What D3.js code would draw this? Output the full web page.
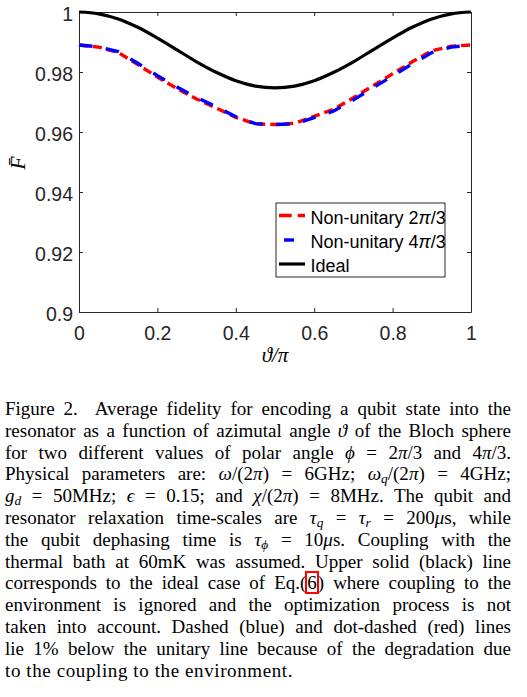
<!DOCTYPE html>
<html><head><meta charset="utf-8">
<script src="https://cdn.jsdelivr.net/npm/d3@7"></script>
<style>
body{margin:0;background:#fff;width:527px;height:697px;overflow:hidden;position:relative;}
#chart{position:absolute;left:0;top:0;}
#cap{position:absolute;left:5px;top:398px;width:506px;font-family:"Liberation Serif","Times New Roman",serif;font-size:19px;line-height:21.8px;color:#000;}
.l{text-align:justify;text-align-last:justify;height:21.8px;}
.last{text-align:left;text-align-last:left;letter-spacing:0.6px;}
i{font-style:italic}
sub{font-size:70%;vertical-align:-0.25em;line-height:0}
.sp{display:inline-block;width:9px;}
.eq{outline:2px solid #ff0000;outline-offset:-1px;padding:0 1px;}
</style></head>
<body>
<svg id="chart" width="527" height="380"></svg>
<div id="cap">
<div class="l">Figure 2.<span class="sp"></span> Average fidelity for encoding a qubit state into the</div>
<div class="l">resonator as a function of azimutal angle <i>ϑ</i> of the Bloch sphere</div>
<div class="l">for two different values of polar angle <i>ϕ</i> = 2<i>π</i>/3 and 4<i>π</i>/3.</div>
<div class="l">Physical parameters are: <i>ω</i>/(2<i>π</i>) = 6GHz; <i>ω<sub>q</sub></i>/(2<i>π</i>) = 4GHz;</div>
<div class="l"><i>g<sub>d</sub></i> = 50MHz; <i>ϵ</i> = 0.15; and <i>χ</i>/(2<i>π</i>) = 8MHz. The qubit and</div>
<div class="l">resonator relaxation time-scales are <i>τ<sub>q</sub></i> = <i>τ<sub>r</sub></i> = 200<i>μ</i>s, while</div>
<div class="l">the qubit dephasing time is <i>τ<sub>ϕ</sub></i> = 10<i>μ</i>s. Coupling with the</div>
<div class="l">thermal bath at 60mK was assumed. Upper solid (black) line</div>
<div class="l">corresponds to the ideal case of Eq.(<span class="eq">6</span>) where coupling to the</div>
<div class="l">environment is ignored and the optimization process is not</div>
<div class="l">taken into account. Dashed (blue) and dot-dashed (red) lines</div>
<div class="l">lie 1% below the unitary line because of the degradation due</div>
<div class="l last">to the coupling to the environment.</div>
</div>
<script>
const theta = [0,0.05,0.1,0.15,0.2,0.25,0.3,0.35,0.4,0.45,0.5,0.55,0.6,0.65,0.7,0.75,0.8,0.85,0.9,0.95,1];
const ideal = [1.0000,0.9994,0.9977,0.9949,0.9913,0.9874,0.9834,0.9799,0.9771,0.9753,0.9747,0.9753,0.9771,0.9799,0.9834,0.9874,0.9913,0.9949,0.9977,0.9994,1.0000];
const red  = [0.9890,0.9883,0.9865,0.9825,0.9783,0.9745,0.9710,0.9680,0.9649,0.9627,0.9625,0.9629,0.9652,0.9676,0.9714,0.9754,0.9794,0.9834,0.9871,0.9886,0.9890];
const blue = [0.9890,0.9884,0.9868,0.9829,0.9788,0.9750,0.9715,0.9684,0.9651,0.9628,0.9625,0.9627,0.9648,0.9670,0.9707,0.9747,0.9787,0.9827,0.9865,0.9883,0.9890];
const xTicks = [0,0.2,0.4,0.6,0.8,1];
const yTicks = [0.9,0.92,0.94,0.96,0.98,1];
const xTickLabels = ["0","0.2","0.4","0.6","0.8","1"];
const yTickLabels = ["0.9","0.92","0.94","0.96","0.98","1"];
const legendNames = [["Non-unitary 2","π","/3"],["Non-unitary 4","π","/3"],["Ideal","",""]];

const svg = d3.select('#chart');
const axColor = '#262626';
const x = d3.scaleLinear().domain([0,1]).range([79,471]);
const y = d3.scaleLinear().domain([0.9,1]).range([312,12]);
const sans = '"Liberation Sans", Arial, Helvetica, sans-serif';

function styleAxis(g){
  g.select('.domain').attr('stroke',axColor).attr('stroke-width',1);
  g.selectAll('.tick line').attr('stroke',axColor).attr('stroke-width',1);
  g.selectAll('.tick text').attr('fill',axColor).attr('font-family',sans).attr('font-size','19.5px');
}
const gx = svg.append('g').attr('transform','translate(0,312)')
  .call(d3.axisBottom(x).tickValues(xTicks).tickFormat((d,i)=>xTickLabels[i]).tickSizeInner(-4).tickSizeOuter(0).tickPadding(14));
styleAxis(gx);
const gy = svg.append('g').attr('transform','translate(79,0)')
  .call(d3.axisLeft(y).tickValues(yTicks).tickFormat((d,i)=>yTickLabels[i]).tickSizeInner(-4).tickSizeOuter(0).tickPadding(6));
styleAxis(gy);
gy.selectAll('.tick text').attr('dy','0.45em');
const gt = svg.append('g').attr('transform','translate(0,12)')
  .call(d3.axisTop(x).tickValues(xTicks).tickFormat('').tickSizeInner(-4).tickSizeOuter(0));
styleAxis(gt);
const gr = svg.append('g').attr('transform','translate(471,0)')
  .call(d3.axisRight(y).tickValues(yTicks).tickFormat('').tickSizeInner(-4).tickSizeOuter(0));
styleAxis(gr);

// axis labels
svg.append('text').attr('transform','translate(25,163) rotate(-90)')
  .attr('text-anchor','middle').attr('font-family','"Liberation Serif", serif')
  .attr('font-style','italic').attr('font-size','22px').attr('fill','#000').text('F\u0304');
svg.append('text').attr('x',275).attr('y',362).attr('text-anchor','middle')
  .attr('font-family','"Liberation Serif", serif').attr('font-style','italic')
  .attr('font-size','21px').attr('fill','#000').text('ϑ/π');

// lines
const line = d3.line().x((d,i)=>x(theta[i])).y(d=>y(d));
const smooth = d3.line().x((d,i)=>x(theta[i])).y(d=>y(d)).curve(d3.curveCatmullRom);
svg.append('path').attr('d',smooth(ideal)).attr('fill','none').attr('stroke','#000').attr('stroke-width',3.2);
svg.append('path').attr('d',line(red)).attr('fill','none').attr('stroke','#ff0000').attr('stroke-width',3.4).attr('stroke-dasharray','9,5');
svg.append('path').attr('d',line(blue)).attr('fill','none').attr('stroke','#0000ff').attr('stroke-width',3.4).attr('stroke-dasharray','13.5,13.5');

// legend
const lg = svg.append('g');
lg.append('rect').attr('x',276).attr('y',203).attr('width',169).attr('height',74)
  .attr('fill','#fff').attr('stroke',axColor).attr('stroke-width',1);
const rowY = [215.5,240,264];
lg.append('line').attr('x1',279).attr('x2',305).attr('y1',rowY[0]).attr('y2',rowY[0])
  .attr('stroke','#ff0000').attr('stroke-width',3.4).attr('stroke-dasharray','12.7,6');
lg.append('line').attr('x1',284).attr('x2',294).attr('y1',rowY[1]).attr('y2',rowY[1])
  .attr('stroke','#0000ff').attr('stroke-width',3.4);
lg.append('line').attr('x1',279).attr('x2',305).attr('y1',rowY[2]).attr('y2',rowY[2])
  .attr('stroke','#000').attr('stroke-width',3.2);
legendNames.forEach((n,i)=>{
  const t = lg.append('text').attr('x',310.5).attr('y',rowY[i]+8).attr('font-family',sans)
    .attr('font-size','18px').attr('fill','#000');
  t.append('tspan').text(n[0]);
  if(n[1]) t.append('tspan').attr('font-style','italic').text(n[1]);
  if(n[2]) t.append('tspan').text(n[2]);
});
</script>
</body></html>
